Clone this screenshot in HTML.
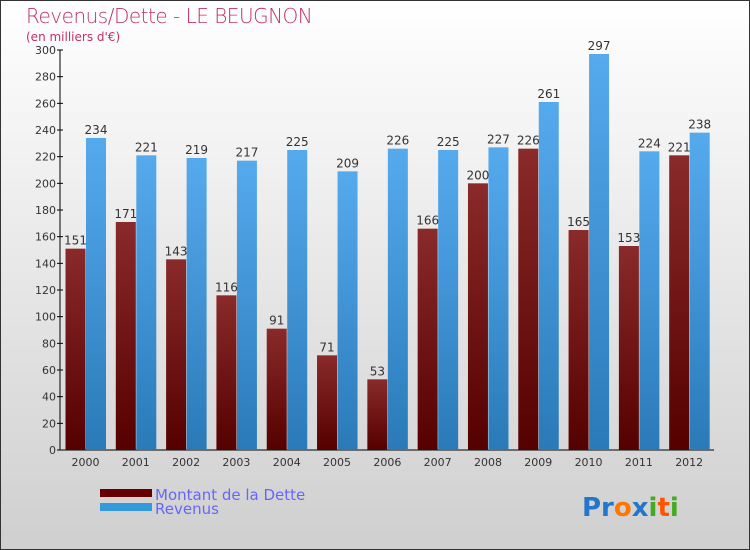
<!DOCTYPE html>
<html><head><meta charset="utf-8"><style>
body{margin:0;}
#wrap{width:750px;height:550px;position:relative;overflow:hidden;background:linear-gradient(#ffffff,#cfcfcf);font-family:"DejaVu Sans","Liberation Sans",sans-serif;}
</style></head><body>
<div id="wrap">
<svg id="chart" width="750" height="550" style="position:absolute;left:0;top:0">
<rect x="0.5" y="0.5" width="749" height="549" fill="none" stroke="#333"/>
<text x="26" y="23" font-size="20" fill="#c0306a" style="font-family:'DejaVu Sans',sans-serif;letter-spacing:-0.5px" font-weight="200">Revenus/Dette - LE BEUGNON</text>
<text x="26" y="41" font-size="12" fill="#c0306a">(en milliers d'€)</text>
<g id="axes"></g><g id="bars"></g>
<rect x="100" y="489" width="52" height="8" fill="#660000"/>
<rect x="100" y="503" width="52" height="8" fill="#3399dd"/>
<text x="155" y="500" font-size="15" fill="#6666ff">Montant de la Dette</text>
<text x="155" y="514" font-size="15" fill="#6666ff">Revenus</text>
<text x="582" y="516" font-size="26" font-weight="bold"><tspan fill="#2277cc">Pr</tspan><tspan fill="#ff7700">o</tspan><tspan fill="#2277cc">x</tspan><tspan fill="#44aa22">i</tspan><tspan fill="#ff5500">t</tspan><tspan fill="#44aa22">i</tspan></text>
</svg>
</div>
<script>
const years=["2000","2001","2002","2003","2004","2005","2006","2007","2008","2009","2010","2011","2012"];
const dette=[151,171,143,116,91,71,53,166,200,226,165,153,221];
const revenus=[234,221,219,217,225,209,226,225,227,261,297,224,238];
const yTicks=[0,20,40,60,80,100,120,140,160,180,200,220,240,260,280,300];
const NS="http://www.w3.org/2000/svg";
const x0=60,x1=714,y0=450,yTop=50,maxV=300;
const gw=(x1-x0)/years.length;
const y=v=>y0-(v/maxV)*(y0-yTop);
function mk(tag,attrs,parent){const e=document.createElementNS(NS,tag);for(const k in attrs)e.setAttribute(k,attrs[k]);parent.appendChild(e);return e;}
const ax=document.getElementById('axes'),bg=document.getElementById('bars');
let l=mk('line',{x1:x0,y1:yTop,x2:x0,y2:y0,stroke:'#000'},ax);


l=mk('line',{x1:x0,y1:y0,x2:x1,y2:y0,stroke:'#000'},ax);


const defs=mk('defs',{},ax);
defs.innerHTML='<linearGradient id="gd" x1="0" y1="0" x2="0" y2="1"><stop offset="0" stop-color="#8a2a2a"/><stop offset="1" stop-color="#550000"/></linearGradient><linearGradient id="gr" x1="0" y1="0" x2="0" y2="1"><stop offset="0" stop-color="#55aaee"/><stop offset="1" stop-color="#2a7ab8"/></linearGradient>';
yTicks.forEach(v=>{
 const t=mk('line',{x1:x0-3,x2:x0+3,y1:y(v),y2:y(v),stroke:'#000'},ax);
 
 
 const tx=mk('text',{x:x0-4,y:y(v)+4,'font-size':11,'text-anchor':'end',fill:'#333'},ax);
 tx.textContent=v;
 
 
});
years.forEach((yr,i)=>{
 const gx=x0+i*gw+5.5, bw=20;
 const r1=mk('rect',{x:gx,y:y(dette[i]),width:bw,height:y0-y(dette[i]),fill:'url(#gd)'},bg);
 
 
 const r2=mk('rect',{x:gx+bw+0.5,y:y(revenus[i]),width:bw,height:y0-y(revenus[i]),fill:'url(#gr)'},bg);
 
 
 const t1=mk('text',{x:gx+bw/2,y:y(dette[i])-4,'font-size':12,'text-anchor':'middle',fill:'#333'},bg);
 t1.textContent=dette[i];
 
 
 const t2=mk('text',{x:gx+bw*1.5+0.5,y:y(revenus[i])-4,'font-size':12,'text-anchor':'middle',fill:'#333'},bg);
 t2.textContent=revenus[i];
 
 
 const xl=mk('text',{x:gx+bw,y:y0+16,'font-size':11,'text-anchor':'middle',fill:'#333'},ax);
 xl.textContent=yr;
 
 
});
</script>
</body></html>
